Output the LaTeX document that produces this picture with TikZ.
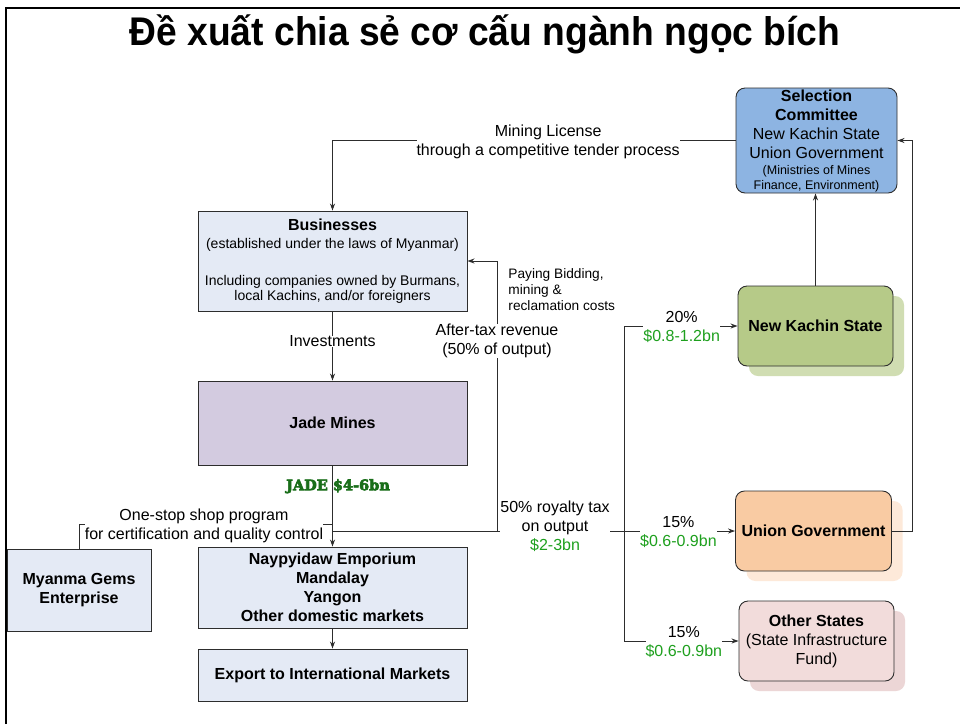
\documentclass[tikz,border=0pt]{standalone}
\usepackage{fontspec}
\setmainfont{Liberation Sans}
\newfontfamily\jadefont{DejaVu Serif}[BoldFeatures={FakeBold=4}]
\usetikzlibrary{arrows.meta,shadows}

\definecolor{boxblue}{RGB}{228,234,245}
\definecolor{selblue}{RGB}{141,180,226}
\definecolor{jadepurple}{RGB}{211,203,224}
\definecolor{nksgreen}{RGB}{182,202,136}
\definecolor{nksshadow}{RGB}{208,221,178}
\definecolor{ugorange}{RGB}{249,203,163}
\definecolor{ugshadow}{RGB}{253,233,217}
\definecolor{ospink}{RGB}{242,220,219}
\definecolor{osshadow}{RGB}{236,214,214}
\definecolor{moneygreen}{RGB}{30,160,30}
\definecolor{jadegreen}{RGB}{25,110,25}
\definecolor{edgegray}{RGB}{45,45,45}

\newcommand\fsSixteen{\fontsize{16}{19}\selectfont}
\newcommand\fsFourteen{\fontsize{14}{16}\selectfont}
\newcommand\fsSmall{\fontsize{12.5}{15}\selectfont}

\begin{document}
\begin{tikzpicture}[x=1pt,y=-1pt,
  sqbox/.style={draw=edgegray, line width=0.9pt, align=center, inner sep=1pt, font=\fsSixteen\bfseries},
  rbox/.style={sqbox, rounded corners=9pt},
  conn/.style={draw=edgegray, line width=0.9pt},
  arr/.style={conn, -{Stealth[length=7pt,width=5pt]}},
  lbl/.style={fill=white, inner sep=0pt, align=center, font=\fsSixteen, yshift=-1.2pt},
  money/.style={text=moneygreen}
]
\fill[white] (0,0) rectangle (960,724);
\useasboundingbox (0,0) rectangle (960,724);

% frame
\draw[line width=2.6pt] (6,724) -- (6,8) -- (960,8);

% title
\node (title) at (485,34) {\fontsize{40}{44}\selectfont\bfseries\scalebox{0.93}[1]{Đề xuất chia sẻ cơ cấu ngành ngọc bích}};

% boxes
\node[rbox, fill=selblue, minimum width=161pt, minimum height=105pt, inner sep=0pt] (sc) at (816.5,140.5)
  {Selection\\Committee\\\mdseries New Kachin State\\\mdseries Union Government\\[-3pt]\mdseries\fsSmall (Ministries of Mines\\[-4pt]\mdseries\fsSmall Finance, Environment)};

\node[sqbox, fill=boxblue, minimum width=269pt, minimum height=100pt] (bus) at (332.5,261)
  {Businesses\\[-0.7pt]\mdseries\fsFourteen (established under the laws of Myanmar)\\[17.5pt]\mdseries\fsFourteen Including companies owned by Burmans,\\[-3.5pt]\mdseries\fsFourteen local Kachins, and/or foreigners};

\node[sqbox, fill=jadepurple, minimum width=269pt, minimum height=84pt] (jade) at (332.5,423) {Jade Mines};

\node[sqbox, fill=boxblue, minimum width=269pt, minimum height=81pt] (nay) at (332.5,587.5)
  {Naypyidaw Emporium\\Mandalay\\Yangon\\Other domestic markets};

\node[sqbox, fill=boxblue, minimum width=269pt, minimum height=52pt] (exp) at (332.5,675)
  {Export to International Markets};

\node[sqbox, fill=boxblue, minimum width=144pt, minimum height=82pt] (mge) at (79,590)
  {Myanma Gems\\Enterprise};

\node[rbox, fill=nksgreen, minimum width=155pt, minimum height=80pt,
  drop shadow={shadow xshift=11pt, shadow yshift=-10pt, fill=nksshadow, opacity=1, draw=none}] (nks) at (815.5,326) {New Kachin State};

\node[rbox, fill=ugorange, minimum width=156pt, minimum height=80pt,
  drop shadow={shadow xshift=11pt, shadow yshift=-10pt, fill=ugshadow, opacity=1, draw=none}] (ug) at (813.5,531) {Union Government};

\node[rbox, fill=ospink, minimum width=155pt, minimum height=80pt,
  drop shadow={shadow xshift=11pt, shadow yshift=-10pt, fill=osshadow, opacity=1, draw=none}] (os) at (816.5,641)
  {Other States\\\mdseries (State Infrastructure\\\mdseries Fund)};

% junction coordinates
\coordinate (J) at (332,531);
\coordinate (mj) at (332,524);
\coordinate (rb) at (497,531);
\coordinate (rt) at (497,261);
\coordinate (T) at (624,531);
\coordinate (ur) at (912,531);

% connectors
\draw[arr] (sc.west) -- node[lbl, pos=0.465] {Mining License\\through a competitive tender process} (sc.west -| bus.north) -- (bus.north);

\draw[arr] (bus.south) -- node[lbl, pos=0.414] {Investments} (jade.north);

\draw[arr] (jade.south) -- node[pos=0.256, xshift=5.5pt, inner sep=0pt, text=jadegreen, font=\jadefont\bfseries\fontsize{14.5}{16}\selectfont] {JADE \$4-6bn} (nay.north);

\draw[conn] (mge.north) |- node[lbl, pos=0.747, yshift=-0.5pt] {One-stop shop program\\for certification and quality control} (mj);

\draw[conn] (J) -- (rb) -- node[lbl, pos=0.457, yshift=6pt] {50\% royalty tax\\on output\\\textcolor{moneygreen}{\$2-3bn}} (T);

\draw[arr] (rb) -- node[lbl, pos=0.707] {After-tax revenue\\(50\% of output)}
  node[pos=0.893, anchor=west, xshift=11pt, inner sep=0pt, align=left, font=\fontsize{13.7}{16}\selectfont] {Paying Bidding,\\mining \&\\reclamation costs}
  (rt) -- (bus.east);

\draw[arr] (T) |- node[lbl, pos=0.754] {20\%\\\textcolor{moneygreen}{\$0.8-1.2bn}} (nks.west);
\draw[arr] (T) -- node[lbl, pos=0.49] {15\%\\\textcolor{moneygreen}{\$0.6-0.9bn}} (ug.west);
\draw[arr] (T) |- node[lbl, pos=0.761] {15\%\\\textcolor{moneygreen}{\$0.6-0.9bn}} (os.west);

\draw[arr] (ug.east) -- (ur) |- (sc.east);
\draw[arr] (nks.north) -- (nks.north |- sc.south);
\draw[arr] (nay.south) -- (exp.north);
\end{tikzpicture}
\end{document}
